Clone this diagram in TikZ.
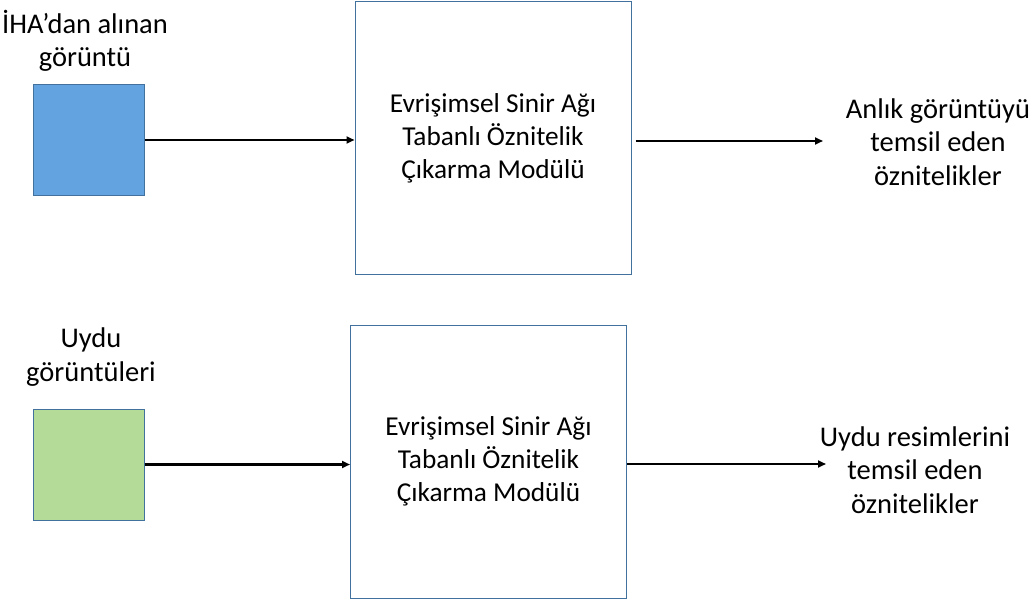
\documentclass[tikz,border=0pt]{standalone}
\usepackage{fontspec}
\setmainfont{Carlito}
\usepackage{xcolor}
\usetikzlibrary{arrows.meta,positioning}
\definecolor{boxline}{HTML}{41719C}
\definecolor{imgblue}{HTML}{62A3E0}
\definecolor{imggreen}{HTML}{B4DC98}

\begin{document}
\begin{tikzpicture}[x=1pt,y=1pt,every node/.style={font=\fontsize{28.5}{33.5}\selectfont},
  imgbox/.style={draw=boxline,line width=1pt,minimum width=111pt,minimum height=111pt,inner sep=0pt},
  cnnbox/.style={draw=boxline,line width=1pt,minimum width=276pt,minimum height=273pt,align=center,inner sep=0pt,font=\fontsize{27.3}{33}\selectfont},
  lbl/.style={align=center,inner sep=0pt},
  flow/.style={line width=2.4pt,-{Triangle[length=8pt,width=7pt]}}]
\useasboundingbox (0,0) rectangle (1036,606);
% upper row
\node[imgbox,fill=imgblue] (uav) at (88.5,466) {};
\node[lbl] (uavlbl) at (85,565) {İHA’dan alınan\\görüntü};
\node[cnnbox] (cnn1) at (493,467.5) {Evrişimsel Sinir Ağı\\Tabanlı Öznitelik\\Çıkarma Modülü};
\node[lbl] (feat1) at (938,464) {Anlık görüntüyü\\temsil eden\\öznitelikler};
\coordinate (end1) at (823,465);
\draw[flow] (uav.east) -- (uav.east -| cnn1.west);
\draw[flow] ([xshift=4pt]cnn1.east |- end1) -- (end1);
% lower row
\node[imgbox,fill=imggreen] (sat) at (88.5,141.5) {};
\node[lbl] (satlbl) at (91,249) {Uydu\\görüntüleri};
\node[cnnbox] (cnn2) at (488.5,144.5) {Evrişimsel Sinir Ağı\\Tabanlı Öznitelik\\Çıkarma Modülü};
\node[lbl] (feat2) at (915,136) {Uydu resimlerini\\temsil eden\\öznitelikler};
\coordinate (end2) at (826,142);
\draw[flow] (sat.east) -- (sat.east -| cnn2.west);
\draw[flow] (cnn2.east |- end2) -- (end2);
\end{tikzpicture}
\end{document}
